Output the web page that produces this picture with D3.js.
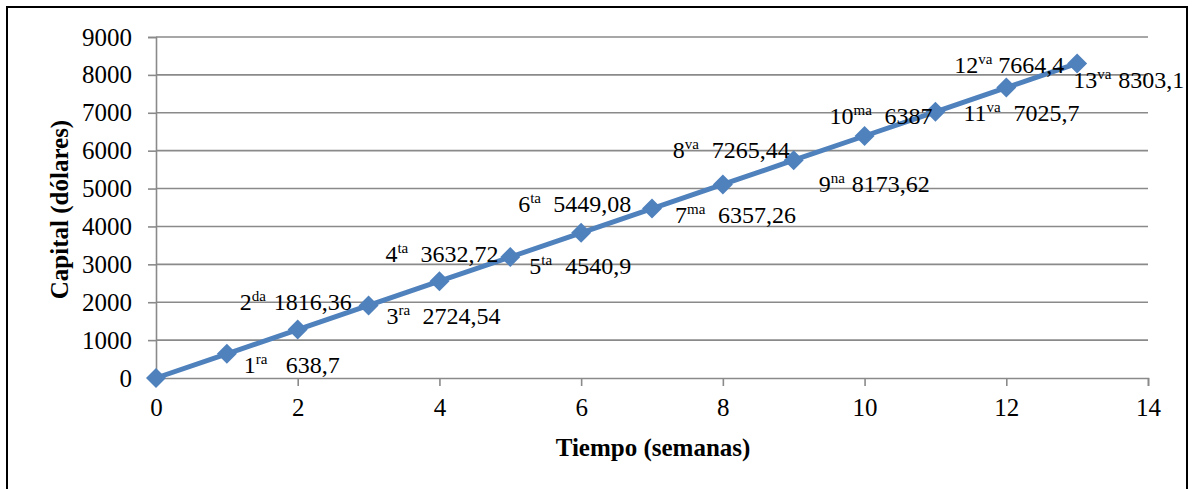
<!DOCTYPE html>
<html>
<head>
<meta charset="utf-8">
<script src="https://cdn.jsdelivr.net/npm/d3@7"></script>
<style>
  html, body { margin: 0; padding: 0; background: #fff; }
  svg { display: block; }
  svg text { font-family: "Liberation Serif", "Times New Roman", "DejaVu Serif", serif; fill: #000; }
</style>
</head>
<body>
<svg id="chart" width="1192" height="489"></svg>
<script>
// Capital accumulated week by week
const weeks = [0, 1, 2, 3, 4, 5, 6, 7, 8, 9, 10, 11, 12, 13];
const capital = [0, 638.7, 1277.4, 1916.1, 2554.8, 3193.5, 3832.2, 4470.9,
                 5109.6, 5748.3, 6387, 7025.7, 7664.4, 8303.1];

// Annotation texts next to the points (ordinal, suffix, amount)
const ordinals = ["1", "2", "3", "4", "5", "6", "7", "8", "9", "10", "11", "12", "13"];
const suffixes = ["ra", "da", "ra", "ta", "ta", "ta", "ma", "va", "na", "ma", "va", "va", "va"];
const amounts = ["638,7", "1816,36", "2724,54", "3632,72", "4540,9", "5449,08",
                 "6357,26", "7265,44", "8173,62", "6387", "7025,7", "7664,4", "8303,1"];

const xTicks = [0, 2, 4, 6, 8, 10, 12, 14];
const yTicks = [0, 1000, 2000, 3000, 4000, 5000, 6000, 7000, 8000, 9000];

const xTitle = "Tiempo (semanas)";
const yTitle = "Capital (dólares)";

// Label placement around each point: [dx, dy, gap to amount]
const labelPlacement = [
  [17, 19, 42], [-58, -20, 34], [18, 19, 36], [-54, -19, 35], [19, 17, 36],
  [-63, -21, 35], [23, 14, 43], [-50, -26, 39], [25, 32, 33], [-35, -12, 55],
  [28, 9, 50], [-52, -15, 44], [-4, 25, 45]
];

const FONT = '"Liberation Serif", "Times New Roman", "DejaVu Serif", serif';

const svg = d3.select("#chart");
const W = 1192, H = 489;
const m = { left: 156, right: 44, top: 37, bottom: 111 };

// outer frame
svg.append("rect")
  .attr("x", 7).attr("y", 7)
  .attr("width", 1180).attr("height", 500)
  .attr("fill", "none").attr("stroke", "#000").attr("stroke-width", 2);

const x = d3.scaleLinear().domain([0, 14]).range([m.left, W - m.right]);
const y = d3.scaleLinear().domain([0, 9000]).range([H - m.bottom, m.top]);

const gridColor = "#8a8a8a";

// horizontal gridlines
svg.append("g")
  .selectAll("line")
  .data(yTicks.filter(d => d > 0))
  .join("line")
  .attr("x1", m.left).attr("x2", W - m.right)
  .attr("y1", d => y(d)).attr("y2", d => y(d))
  .attr("stroke", gridColor).attr("stroke-width", 1.6);

function styleAxis(g) {
  g.attr("font-family", FONT).attr("font-size", 25);
  g.select(".domain").attr("stroke", gridColor).attr("stroke-width", 1.6);
  g.selectAll(".tick line").attr("stroke", gridColor).attr("stroke-width", 1.6);
  g.selectAll(".tick text").attr("fill", "#000")
    .style("font-family", FONT).style("font-size", "25px");
}

svg.append("g")
  .attr("transform", `translate(${m.left},0)`)
  .call(d3.axisLeft(y).tickValues(yTicks).tickSize(8).tickPadding(16).tickFormat(d3.format("d")))
  .call(styleAxis);

svg.append("g")
  .attr("transform", `translate(0,${H - m.bottom})`)
  .call(d3.axisBottom(x).tickValues(xTicks).tickSize(8).tickPadding(12).tickFormat(d3.format("d")))
  .call(styleAxis);

// axis titles
svg.append("text")
  .attr("x", (x(0) + x(14)) / 2 + 1)
  .attr("y", 456)
  .attr("text-anchor", "middle")
  .style("font-family", FONT)
  .style("font-size", "25px").style("font-weight", "bold")
  .text(xTitle);

svg.append("text")
  .attr("transform", `translate(68,${(y(0) + y(9000)) / 2 + 2}) rotate(-90)`)
  .attr("text-anchor", "middle")
  .style("font-family", FONT)
  .style("font-size", "25px").style("font-weight", "bold")
  .text(yTitle);

const blue = "#4F81BD";
const pts = weeks.map((w, i) => ({ w, c: capital[i] }));

svg.append("path")
  .datum(pts)
  .attr("fill", "none")
  .attr("stroke", blue)
  .attr("stroke-width", 5)
  .attr("stroke-linejoin", "round")
  .attr("d", d3.line().x(d => x(d.w)).y(d => y(d.c)));

const diamond = d3.symbol().type(d3.symbolSquare).size(200);
svg.append("g")
  .selectAll("path")
  .data(pts)
  .join("path")
  .attr("d", diamond)
  .attr("transform", d => `translate(${x(d.w)},${y(d.c)}) rotate(45)`)
  .attr("fill", blue);

// annotations for weeks 1..13
const labels = svg.append("g").style("font-family", FONT);
ordinals.forEach((o, i) => {
  const p = pts[i + 1];
  const [dx, dy, gap] = labelPlacement[i];
  const lx = x(p.w) + dx, ly = y(p.c) + dy;
  const t = labels.append("text")
    .attr("x", lx).attr("y", ly)
    .style("font-size", "24px");
  t.append("tspan").text(o);
  t.append("tspan")
    .attr("dy", -9)
    .style("font-size", "15px")
    .text(suffixes[i]);
  labels.append("text")
    .attr("x", lx + gap).attr("y", ly)
    .style("font-size", "24px")
    .text(amounts[i]);
});
</script>
</body>
</html>
